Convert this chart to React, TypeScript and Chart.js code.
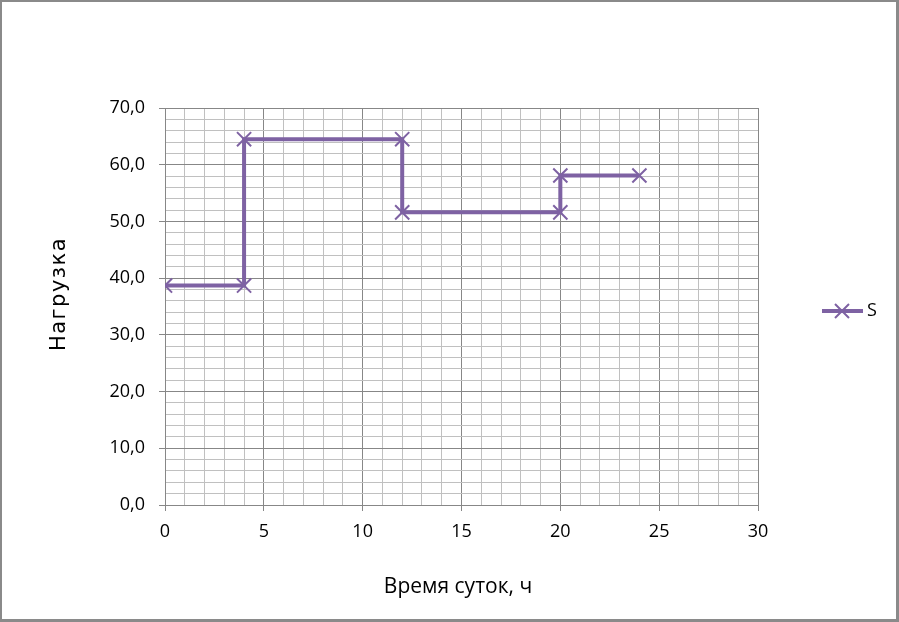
import { useEffect, useRef } from 'react';
import { Chart, registerables } from 'chart.js';

Chart.register(...registerables);

const hours = [0, 4, 4, 12, 12, 20, 20, 24];
const load = [38.7, 38.7, 64.5, 64.5, 51.6, 51.6, 58.1, 58.1];
const seriesName = 'S';
const xTitle = 'Время суток, ч';
const yTitle = 'Нагрузка';
const xMin = 0;
const xMax = 30;
const xMinorStep = 1;
const xMajorStep = 5;
const yMin = 0;
const yMax = 70;
const yMinorStep = 2;
const yMajorStep = 10;

const LINE_COLOR = '#7e62a3';
const MAJOR = '#878787';
const MINOR = '#c0c0c0';

export default function App() {
  const ref = useRef<HTMLCanvasElement | null>(null);

  useEffect(() => {
    document.body.style.margin = '0';
    const canvas = ref.current;
    if (!canvas) return;

    const decor = {
      id: 'decor',
      afterDraw(chart: any) {
        const ctx = chart.ctx as CanvasRenderingContext2D;
        ctx.save();
        // x title
        ctx.fillStyle = '#000';
        ctx.font = '21px "Open Sans"';
        ctx.textAlign = 'center';
        ctx.textBaseline = 'alphabetic';
        ctx.fillText(xTitle, 458, 593);
        // y title
        ctx.save();
        ctx.translate(65, 294);
        ctx.rotate(-Math.PI / 2);
        ctx.font = '21px "DejaVu Sans"';
        (ctx as any).letterSpacing = '1.5px';
        ctx.fillText(yTitle, 0, 0);
        ctx.restore();
        // legend
        ctx.strokeStyle = LINE_COLOR;
        ctx.lineWidth = 4;
        ctx.beginPath();
        ctx.moveTo(822, 311);
        ctx.lineTo(863, 311);
        ctx.stroke();
        ctx.lineWidth = 2;
        ctx.beginPath();
        const r = 7;
        ctx.moveTo(842 - r, 311 - r);
        ctx.lineTo(842 + r, 311 + r);
        ctx.moveTo(842 - r, 311 + r);
        ctx.lineTo(842 + r, 311 - r);
        ctx.stroke();
        ctx.fillStyle = '#000';
        ctx.font = '18px "Open Sans"';
        ctx.textAlign = 'left';
        ctx.textBaseline = 'middle';
        ctx.fillText(seriesName, 867, 311);
        ctx.restore();
      },
    };

    const chart = new Chart(canvas, {
      type: 'scatter',
      data: {
        datasets: [
          {
            label: seriesName,
            data: hours.map((h, i) => ({ x: h, y: load[i] })),
            showLine: true,
            borderColor: LINE_COLOR,
            backgroundColor: LINE_COLOR,
            borderWidth: 4,
            borderJoinStyle: 'miter',
            tension: 0,
            pointStyle: 'crossRot',
            pointRadius: 10,
            pointBorderWidth: 2,
            pointBorderColor: LINE_COLOR,
            pointHoverRadius: 10,
          },
        ],
      },
      plugins: [decor],
      options: {
        responsive: false,
        animation: false,
        devicePixelRatio: 1,
        layout: { padding: { top: 108, right: 141, bottom: 0, left: 0 } },
        plugins: {
          legend: { display: false },
          tooltip: { enabled: false },
        },
        scales: {
          x: {
            type: 'linear',
            min: xMin,
            max: xMax,
            afterFit: (s: any) => {
              s.height = 117;
            },
            border: { display: true, color: MAJOR, width: 1 },
            grid: {
              color: (c: any) => (c.tick && c.tick.value % xMajorStep === 0 ? MAJOR : MINOR),
              tickColor: (c: any) =>
                c.tick && c.tick.value % xMajorStep === 0 ? MAJOR : 'rgba(0,0,0,0)',
              tickLength: 6,
              lineWidth: 1,
            },
            ticks: {
              stepSize: xMinorStep,
              autoSkip: false,
              maxRotation: 0,
              padding: 10,
              color: '#000',
              font: { family: '"Open Sans"', size: 18 },
              callback: (v: any) => (Number(v) % xMajorStep === 0 ? String(v) : ''),
            },
          },
          y: {
            type: 'linear',
            min: yMin,
            max: yMax,
            afterFit: (s: any) => {
              s.width = 165;
            },
            border: { display: true, color: MAJOR, width: 1 },
            grid: {
              color: (c: any) => (c.tick && c.tick.value % yMajorStep === 0 ? MAJOR : MINOR),
              tickColor: (c: any) =>
                c.tick && c.tick.value % yMajorStep === 0 ? MAJOR : 'rgba(0,0,0,0)',
              tickLength: 6,
              lineWidth: 1,
            },
            ticks: {
              stepSize: yMinorStep,
              autoSkip: false,
              padding: 14,
              color: '#000',
              font: { family: '"Open Sans"', size: 18 },
              callback: (v: any) =>
                Number(v) % yMajorStep === 0 ? Number(v).toFixed(1).replace('.', ',') : '',
            },
          },
        },
      },
    } as any);

    return () => chart.destroy();
  }, []);

  return (
    <div style={{ position: 'relative', width: 899, height: 622, background: '#fff' }}>
      <canvas ref={ref} width={899} height={622} style={{ display: 'block' }} />
      <div
        style={{
          position: 'absolute',
          left: 0,
          top: 0,
          width: 899,
          height: 622,
          boxSizing: 'border-box',
          borderTop: '2px solid #8a8a8a',
          borderLeft: '2px solid #8a8a8a',
          borderRight: '3px solid #8a8a8a',
          borderBottom: '3px solid #8a8a8a',
          pointerEvents: 'none',
        }}
      />
    </div>
  );
}
